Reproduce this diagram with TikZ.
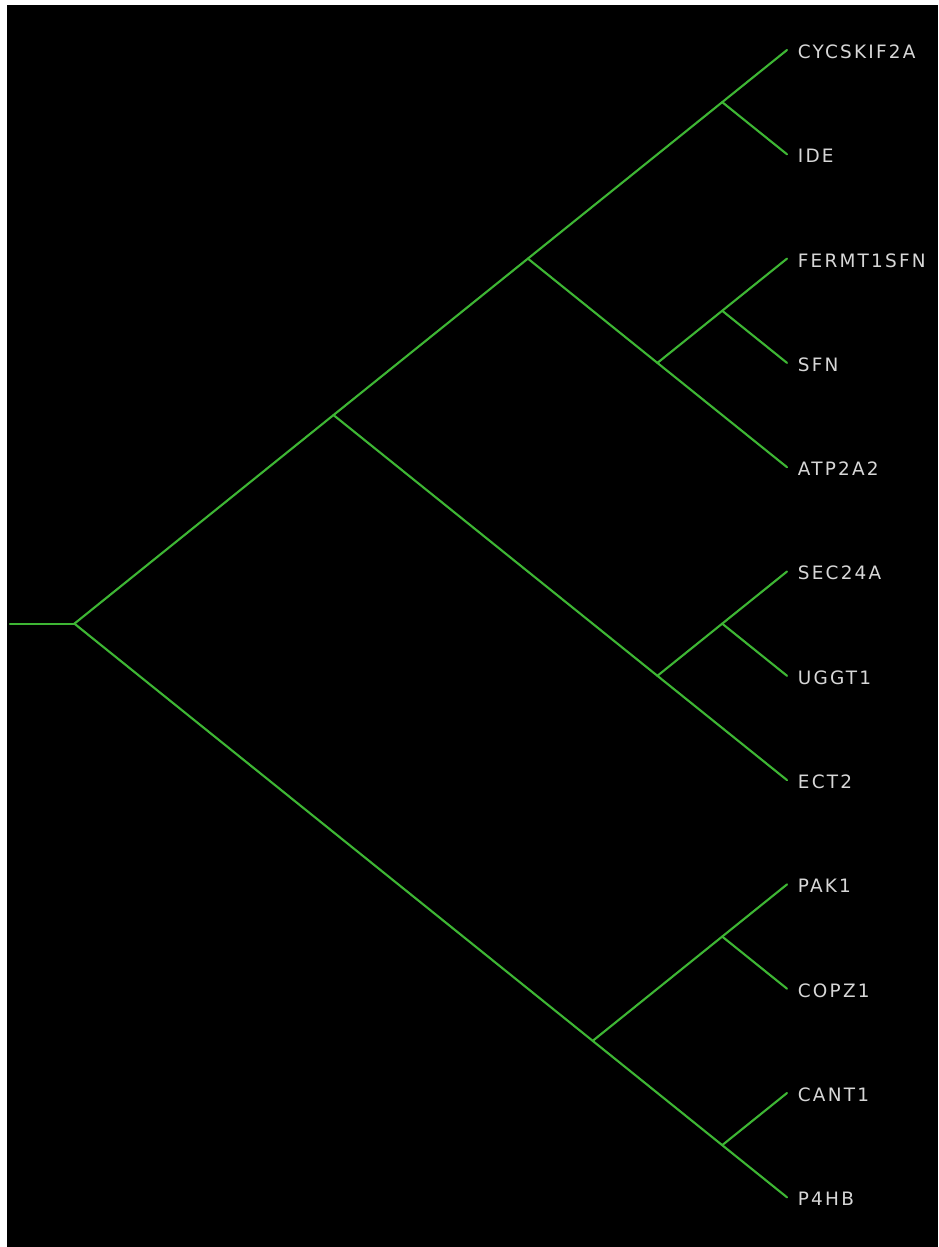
\documentclass[tikz,border=0pt]{standalone}
\usepackage{fontspec}
\newfontfamily\genefont{DejaVu Sans}[LetterSpace=12]
\usepackage{tikz}
\definecolor{branch}{RGB}{62,182,52}
\definecolor{genetext}{RGB}{215,215,215}

\tikzset{
  edge/.style={branch, line width=1.2pt, line cap=round},
  gene/.style={anchor=west, inner sep=0pt, text=genetext, font=\genefont\fontsize{10.5}{12}\selectfont}
}

\begin{document}
\begin{tikzpicture}[x=0.02cm, y=-0.02cm]
    \useasboundingbox (0,0) rectangle (938,1247);
    \fill[white] (0,0) rectangle (938,1247);
    \fill[black] (7,5) rectangle (938,1247);

    % leaf tips
    \coordinate (cycs) at (787,50);
    \coordinate (ide) at (787,154.3);
    \coordinate (fermt) at (787,258.6);
    \coordinate (sfn) at (787,362.9);
    \coordinate (atp) at (787,467.2);
    \coordinate (sec) at (787,571.5);
    \coordinate (uggt) at (787,675.8);
    \coordinate (ect) at (787,780.1);
    \coordinate (pak) at (787,884.4);
    \coordinate (copz) at (787,988.7);
    \coordinate (cant) at (787,1093);
    \coordinate (p4hb) at (787,1197.3);

    % inner nodes
    \coordinate (n1) at (722.2,102.15);
    \coordinate (n2) at (722.2,310.75);
    \coordinate (n3) at (657.4,362.9);
    \coordinate (n4) at (527.9,258.6);
    \coordinate (n5) at (722.2,623.65);
    \coordinate (n6) at (657.4,675.8);
    \coordinate (n7) at (333.5,415.05);
    \coordinate (n8) at (722.2,936.55);
    \coordinate (n9) at (722.2,1145.15);
    \coordinate (n10) at (592.7,1040.85);
    \coordinate (root) at (74.4,623.65);
    \coordinate (stub) at (10,623.65);

    % branches
    \draw[edge] (stub) -- (root);
    \draw[edge] (root) -- (n7);
    \draw[edge] (root) -- (n10);
    \draw[edge] (n7) -- (n4);
    \draw[edge] (n7) -- (n6);
    \draw[edge] (n4) -- (n1);
    \draw[edge] (n4) -- (n3);
    \draw[edge] (n1) -- (cycs);
    \draw[edge] (n1) -- (ide);
    \draw[edge] (n3) -- (n2);
    \draw[edge] (n3) -- (atp);
    \draw[edge] (n2) -- (fermt);
    \draw[edge] (n2) -- (sfn);
    \draw[edge] (n6) -- (n5);
    \draw[edge] (n6) -- (ect);
    \draw[edge] (n5) -- (sec);
    \draw[edge] (n5) -- (uggt);
    \draw[edge] (n10) -- (n8);
    \draw[edge] (n10) -- (n9);
    \draw[edge] (n8) -- (pak);
    \draw[edge] (n8) -- (copz);
    \draw[edge] (n9) -- (cant);
    \draw[edge] (n9) -- (p4hb);

    % gene labels
    \node[gene] (lcycs) at ([xshift=6pt, yshift=-1pt]cycs) {CYCSKIF2A};
    \node[gene] (lide) at ([xshift=6pt, yshift=-1pt]ide) {IDE};
    \node[gene] (lfermt) at ([xshift=6pt, yshift=-1pt]fermt) {FERMT1SFN};
    \node[gene] (lsfn) at ([xshift=6pt, yshift=-1pt]sfn) {SFN};
    \node[gene] (latp) at ([xshift=6pt, yshift=-1pt]atp) {ATP2A2};
    \node[gene] (lsec) at ([xshift=6pt, yshift=-1pt]sec) {SEC24A};
    \node[gene] (luggt) at ([xshift=6pt, yshift=-1pt]uggt) {UGGT1};
    \node[gene] (lect) at ([xshift=6pt, yshift=-1pt]ect) {ECT2};
    \node[gene] (lpak) at ([xshift=6pt, yshift=-1pt]pak) {PAK1};
    \node[gene] (lcopz) at ([xshift=6pt, yshift=-1pt]copz) {COPZ1};
    \node[gene] (lcant) at ([xshift=6pt, yshift=-1pt]cant) {CANT1};
    \node[gene] (lp4hb) at ([xshift=6pt, yshift=-1pt]p4hb) {P4HB};
\end{tikzpicture}
\end{document}
